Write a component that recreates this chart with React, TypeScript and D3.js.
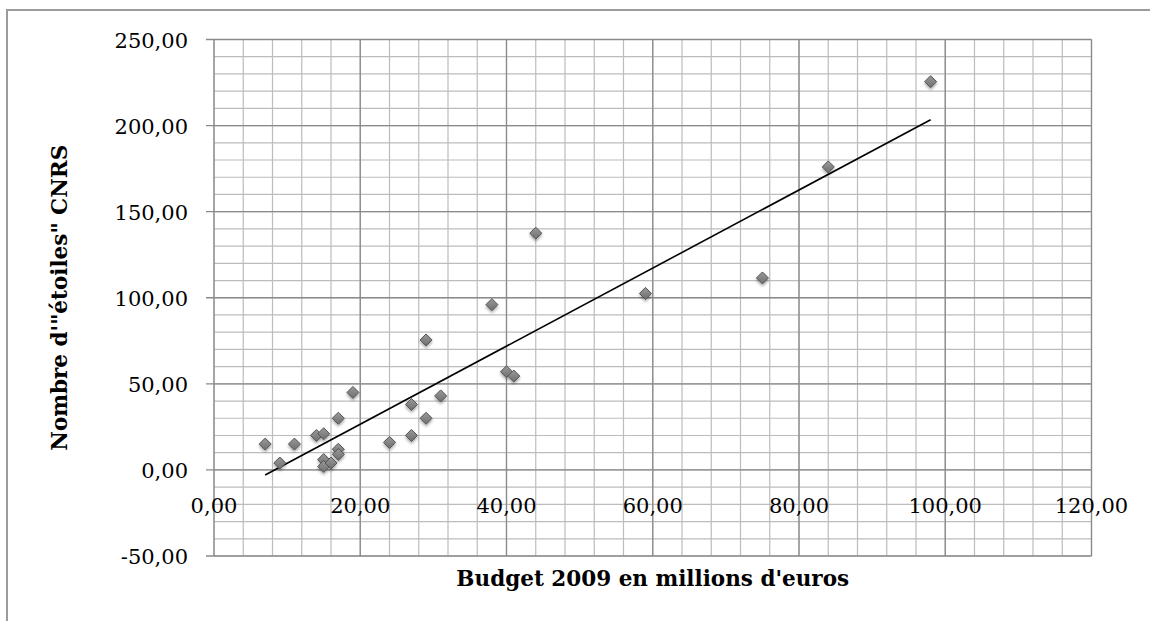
import React from "react";
import * as d3 from "d3";

const budget: number[] = [7, 9, 11, 14, 15, 15, 15, 16, 17, 17, 17, 19, 24, 27, 27, 29, 29, 31, 38, 40, 41, 44, 59, 75, 84, 98];
const stars: number[] = [15, 4, 15, 20, 21, 6, 2, 4, 12, 9, 30, 45, 16, 20, 38, 30, 75.5, 43, 96, 57, 54.5, 137.5, 102.5, 111.5, 176, 225.5];

const xTicks: number[] = [0, 20, 40, 60, 80, 100, 120];
const yTicks: number[] = [-50, 0, 50, 100, 150, 200, 250];
const xMinorStep = 4;
const yMinorStep = 10;

const xTitle = "Budget 2009 en millions d'euros";
const yTitle = "Nombre d'\"étoiles\" CNRS";

const fmt = (v: number) => v.toFixed(2).replace(".", ",");

export default function App() {
  const W = 1150;
  const H = 621;
  const left = 214;
  const right = 1091.5;
  const top = 39.5;
  const bottom = 556;

  const x = d3.scaleLinear().domain([0, 120]).range([left, right]);
  const y = d3.scaleLinear().domain([-50, 250]).range([bottom, top]);

  const xMinor = d3.range(0, 120 + 0.001, xMinorStep);
  const yMinor = d3.range(-50, 250 + 0.001, yMinorStep);

  // least squares trend line
  const mx = d3.mean(budget) as number;
  const my = d3.mean(stars) as number;
  let sxy = 0;
  let sxx = 0;
  budget.forEach((b, i) => {
    sxy += (b - mx) * (stars[i] - my);
    sxx += (b - mx) * (b - mx);
  });
  const slope = sxy / sxx;
  const intercept = my - slope * mx;
  const [x0, x1] = d3.extent(budget) as [number, number];
  const trend = d3.line<number>()
    .x((d) => x(d))
    .y((d) => y(intercept + slope * d))([x0, x1]);

  const r = 6;
  const diamond = (cx: number, cy: number) =>
    `M${cx},${cy - r}L${cx + r},${cy}L${cx},${cy + r}L${cx - r},${cy}Z`;

  const font = "'DejaVu Serif', serif";

  return (
    <svg
      width={W}
      height={H}
      style={{ position: "absolute", left: 0, top: 0, background: "#fff" }}
    >
      <defs>
        <filter id="shadow" x="-50%" y="-50%" width="200%" height="200%">
          <feDropShadow dx="0" dy="2" stdDeviation="1.6" floodColor="#000" floodOpacity="0.35" />
        </filter>
        <linearGradient id="mk" x1="0" y1="0" x2="0" y2="1">
          <stop offset="0" stopColor="#9a9a9a" />
          <stop offset="1" stopColor="#6e6e6e" />
        </linearGradient>
      </defs>
      <rect x={7} y={10} width={W} height={H} fill="none" stroke="#9c9c9c" strokeWidth={2} />

      {/* minor grid */}
      <g stroke="#bcbcbc" strokeWidth={1.2}>
        {xMinor.map((v) => (
          <line key={"xm" + v} x1={x(v)} x2={x(v)} y1={top} y2={bottom} />
        ))}
        {yMinor.map((v) => (
          <line key={"ym" + v} x1={left} x2={right} y1={y(v)} y2={y(v)} />
        ))}
      </g>
      {/* major grid */}
      <g stroke="#8a8a8a" strokeWidth={1.3}>
        {xTicks.map((v) => (
          <line key={"xM" + v} x1={x(v)} x2={x(v)} y1={top} y2={bottom} />
        ))}
        {yTicks.map((v) => (
          <line key={"yM" + v} x1={left - 8} x2={right} y1={y(v)} y2={y(v)} />
        ))}
      </g>

      {/* y tick labels */}
      <g fontFamily={font} fontSize={21} fill="#000" textAnchor="end">
        {yTicks.map((v) => (
          <text key={"yl" + v} x={left - 26} y={y(v) + 8}>
            {fmt(v)}
          </text>
        ))}
      </g>
      {/* x tick labels */}
      <g fontFamily={font} fontSize={21} fill="#000" textAnchor="middle">
        {xTicks.map((v) => (
          <text key={"xl" + v} x={x(v)} y={y(0) + 43}>
            {fmt(v)}
          </text>
        ))}
      </g>

      {/* trend line */}
      <path d={trend || ""} stroke="#000" strokeWidth={1.6} fill="none" />

      {/* markers */}
      <g filter="url(#shadow)">
        {budget.map((b, i) => (
          <path
            key={"p" + i}
            d={diamond(x(b), y(stars[i]))}
            fill="url(#mk)"
            stroke="#555"
            strokeWidth={1}
          />
        ))}
      </g>

      {/* axis titles */}
      <text
        x={(left + right) / 2}
        y={586}
        textAnchor="middle"
        fontFamily={font}
        fontWeight="bold"
        fontSize={21.5}
      >
        {xTitle}
      </text>
      <text
        transform={`translate(67,${(top + bottom) / 2}) rotate(-90)`}
        textAnchor="middle"
        fontFamily={font}
        fontWeight="bold"
        fontSize={21.5}
      >
        {yTitle}
      </text>
    </svg>
  );
}
